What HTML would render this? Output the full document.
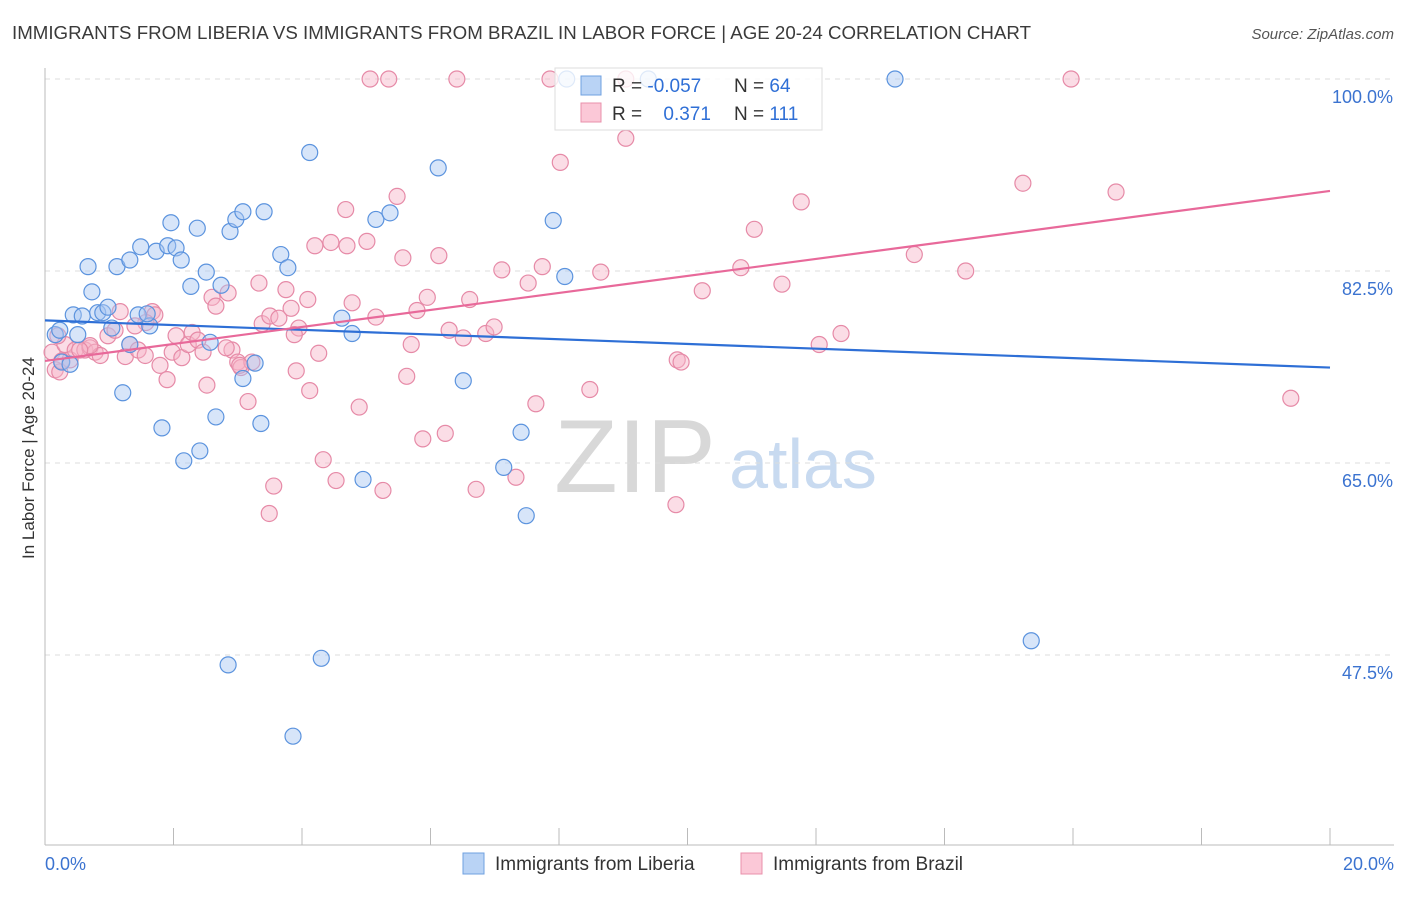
<!DOCTYPE html>
<html><head><meta charset="utf-8"><style>
body{margin:0;background:#fff;font-family:"Liberation Sans",sans-serif;}
svg text{font-family:"Liberation Sans",sans-serif;}
</style></head><body>
<svg id="chart" width="1406" height="892" viewBox="0 0 1406 892" xmlns="http://www.w3.org/2000/svg">
<text x="12" y="39" font-size="18" fill="#3a3a3a" textLength="1019" lengthAdjust="spacingAndGlyphs">IMMIGRANTS FROM LIBERIA VS IMMIGRANTS FROM BRAZIL IN LABOR FORCE | AGE 20-24 CORRELATION CHART</text>
<text x="1394" y="39" font-size="15" fill="#555" text-anchor="end" font-style="italic">Source: ZipAtlas.com</text>
<text transform="translate(34,458) rotate(-90)" font-size="17" fill="#333" text-anchor="middle">In Labor Force | Age 20-24</text>
<g>
<text x="635" y="492" font-size="104" fill="#d8d8d8" text-anchor="middle" font-family="Liberation Serif,serif">ZIP</text>
<text x="803" y="488" font-size="70" fill="#c8daf0" text-anchor="middle">atlas</text>
</g>
<g id="grid"></g>
<g id="axes"></g>
<g id="marks"></g>
<g>
<rect x="555" y="68" width="267" height="62" fill="#fff" fill-opacity="0.8" stroke="#ddd"/>
<rect x="581" y="76" width="20" height="19" fill="#b9d3f5" stroke="#6fa0e0"/>
<text x="612" y="92" font-size="19" fill="#333">R = <tspan fill="#2f6fd6">-0.057</tspan></text>
<text x="734" y="92" font-size="19" fill="#333">N = <tspan fill="#2f6fd6">64</tspan></text>
<rect x="581" y="103" width="20" height="19" fill="#fbc8d7" stroke="#e890ab"/>
<text x="612" y="120" font-size="19" fill="#333">R = <tspan fill="#2f6fd6" dx="16">0.371</tspan></text>
<text x="734" y="120" font-size="19" fill="#333">N = <tspan fill="#2f6fd6">111</tspan></text>
</g>
<g>
<rect x="463" y="853" width="21" height="21" fill="#b9d3f5" stroke="#6fa0e0"/>
<text x="495" y="870" font-size="19" fill="#333">Immigrants from Liberia</text>
<rect x="741" y="853" width="21" height="21" fill="#fbc8d7" stroke="#e890ab"/>
<text x="773" y="870" font-size="19" fill="#333">Immigrants from Brazil</text>
</g>
</svg>
<script>
const xTicks=[0,2,4,6,8,10,12,14,16,18,20];
const yTicks=[47.5,65,82.5,100];
const yTickLabels=["47.5%","65.0%","82.5%","100.0%"];
const blueX=[0.16,0.23,0.26,0.39,0.51,0.44,0.67,0.73,0.58,0.82,0.90,0.98,1.12,1.32,1.49,1.73,1.91,2.04,2.12,1.96,2.37,2.27,2.51,2.74,2.88,2.97,3.08,3.41,3.67,3.78,4.12,4.62,4.78,5.15,5.37,6.12,7.91,8.09,1.04,1.45,1.63,1.59,1.21,1.82,2.16,2.41,2.66,2.57,3.08,3.27,3.36,2.85,3.86,4.30,4.95,6.51,7.14,7.41,7.49,15.35,9.39,13.23,8.12,1.32];
const blueY=[76.7,77.1,74.2,74.0,76.7,78.5,82.9,80.6,78.4,78.7,78.7,79.2,82.9,83.5,84.7,84.3,84.8,84.6,83.5,86.9,86.4,81.1,82.4,81.2,86.1,87.2,87.9,87.9,84.0,82.8,93.3,78.2,76.8,87.2,87.8,91.9,87.1,82.0,77.3,78.5,77.5,78.6,71.4,68.2,65.2,66.1,69.2,76.0,72.7,74.1,68.6,46.6,40.1,47.2,63.5,72.5,64.6,67.8,60.2,48.8,100,100,100,75.8];
const pinkX=[0.11,0.16,0.23,0.31,0.39,0.47,0.62,0.70,0.78,0.86,0.98,1.09,1.25,1.32,1.45,1.56,1.67,1.71,1.79,1.90,1.98,2.04,2.13,2.23,2.29,2.38,2.46,2.52,2.60,2.66,2.85,2.91,3.00,3.05,3.16,3.22,3.33,3.38,3.50,3.64,3.75,3.83,3.95,4.09,3.91,4.12,4.26,4.33,3.56,3.49,4.20,4.45,4.68,4.70,4.78,5.01,5.15,5.48,5.57,5.70,5.63,5.79,5.95,6.13,5.88,6.23,6.29,6.51,6.61,6.86,6.99,7.11,7.52,7.74,7.64,8.02,8.48,8.65,9.04,6.41,5.06,5.35,7.86,9.04,9.84,9.90,10.23,10.83,11.04,11.47,11.77,12.05,12.39,13.53,14.33,15.22,16.67,15.97,19.39,9.82,7.33,6.71,5.26,4.53,4.89,1.57,1.17,0.70,0.20,0.26,1.40,0.54,2.82,3.88,3.03];
const pinkY=[75.1,73.5,73.3,75.8,74.4,75.3,75.3,75.5,75.1,74.8,76.6,77.1,74.7,75.8,75.3,74.8,78.8,78.5,73.9,72.6,75.1,76.6,74.6,75.8,76.9,76.2,75.1,72.1,80.1,79.3,80.5,75.3,74.2,73.7,70.6,74.2,81.4,77.7,78.4,78.2,80.8,79.1,77.3,79.9,73.4,71.6,75.0,65.3,62.9,60.4,84.8,85.1,88.1,84.8,79.6,85.2,78.3,89.3,83.7,75.8,72.9,78.9,80.1,83.9,67.2,67.7,77.1,76.4,79.9,76.8,77.4,82.6,81.4,82.9,70.4,92.4,71.7,82.4,100,100,100,100,100,94.6,74.4,74.2,80.7,82.8,86.3,81.3,88.8,75.8,76.8,84.0,82.5,90.5,89.7,100,70.9,61.2,63.7,62.6,62.5,63.4,70.1,77.8,78.8,75.7,76.6,74.3,77.5,75.3,75.5,76.7,73.9];
const blueTrend=[78.0,73.7];
const pinkTrend=[74.3,89.8];
const NS="http://www.w3.org/2000/svg";
const X0=45,X1=1330,Y0=79,PPY=192/17.5;
function sx(v){return X0+(v/20)*(X1-X0);}
function sy(v){return Y0+(100-v)*PPY;}
function mk(tag,attrs,parent){const e=document.createElementNS(NS,tag);for(const k in attrs)e.setAttribute(k,attrs[k]);parent.appendChild(e);return e;}
const grid=document.getElementById('grid'),axes=document.getElementById('axes'),marks=document.getElementById('marks');
yTicks.forEach((t,i)=>{
 const l=mk('line',{x1:X0,x2:1394,y1:sy(t),y2:sy(t),stroke:'#ddd','stroke-dasharray':'5,5'},grid);
 
 
 const tx=mk('text',{x:1393,y:sy(t)+24,'font-size':18,fill:'#3b73d0','text-anchor':'end'},axes);
 tx.textContent=yTickLabels[i];
 
 
});
const ax=mk('line',{x1:X0,x2:1394,y1:845,y2:845,stroke:'#bbb'},axes);


const ay=mk('line',{x1:X0,x2:X0,y1:68,y2:845,stroke:'#bbb'},axes);


xTicks.forEach(t=>{
 const l=mk('line',{x1:sx(t),x2:sx(t),y1:828,y2:845,stroke:'#bbb'},axes);
 
 
});
const xl0=mk('text',{x:45,y:870,'font-size':18,fill:'#3b73d0'},axes);xl0.textContent=xTicks[0].toFixed(1)+'%';


const xl1=mk('text',{x:1394,y:870,'font-size':18,fill:'#3b73d0','text-anchor':'end'},axes);xl1.textContent=xTicks[xTicks.length-1].toFixed(1)+'%';


function pts(xs,ys,fill,stroke,name){xs.forEach((x,i)=>{
 const c=mk('circle',{cx:sx(x),cy:sy(ys[i]),r:8,fill:fill,'fill-opacity':0.45,stroke:stroke,'stroke-width':1.2},marks);
 
 
});}
pts(pinkX,pinkY,'#f7b3c7','#e68aa7','brazil-point');
pts(blueX,blueY,'#a6c6f2','#5b93de','liberia-point');
const bl=mk('line',{x1:sx(0),y1:sy(blueTrend[0]),x2:sx(20),y2:sy(blueTrend[1]),stroke:'#2e6fd6','stroke-width':2.2},marks);


const pl=mk('line',{x1:sx(0),y1:sy(pinkTrend[0]),x2:sx(20),y2:sy(pinkTrend[1]),stroke:'#e8699a','stroke-width':2.2},marks);


</script>
</body></html>
